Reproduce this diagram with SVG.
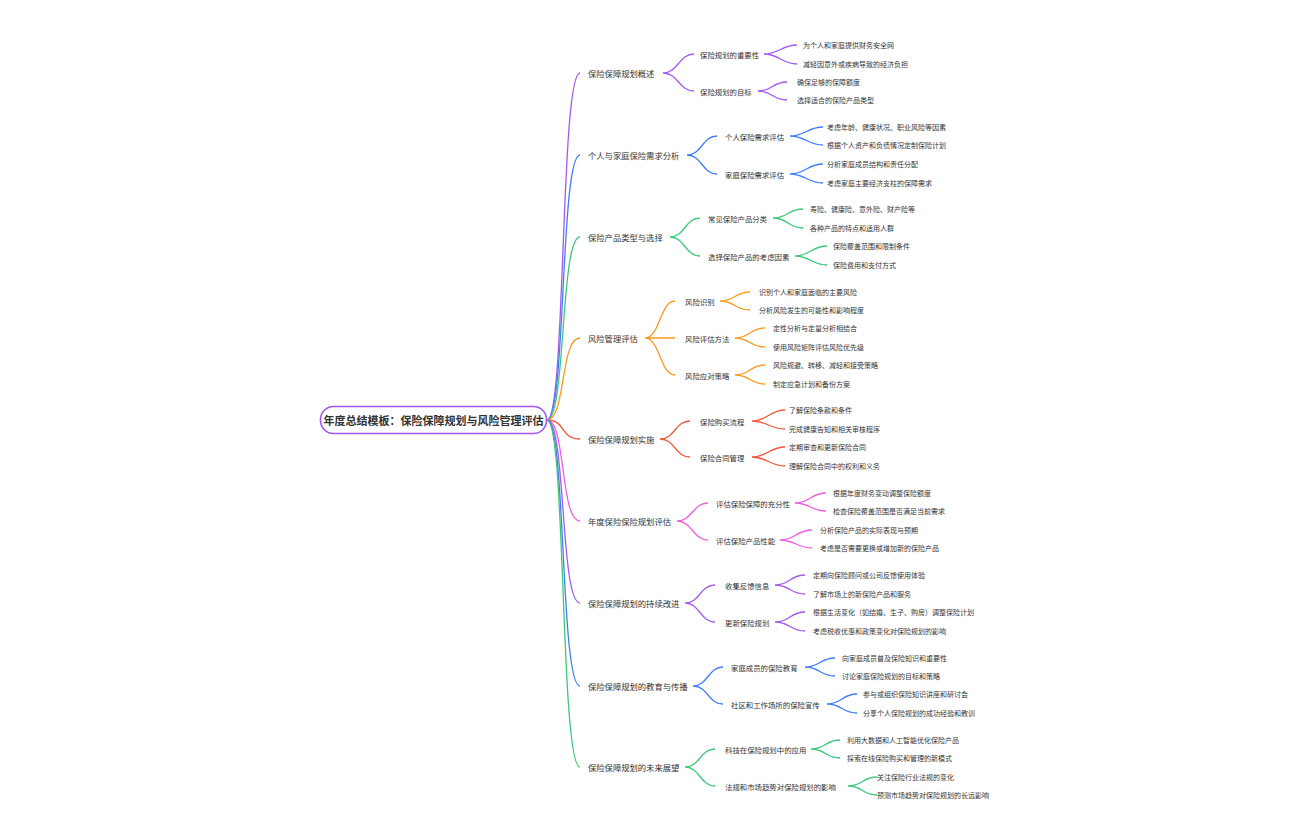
<svg xmlns="http://www.w3.org/2000/svg" width="1296" height="840" viewBox="0 0 1296 840">
<style>
text{font-family:"Noto Sans CJK SC","Noto Sans",sans-serif;fill:#333;dominant-baseline:central}
.l1{font-size:8.3px}.l2{font-size:7.4px}.l3{font-size:7px}
.c path{fill:none;stroke-width:1.3}
.p{stroke:#a259f0}.b{stroke:#3f7ef6}.g{stroke:#3cc87a}.o{stroke:#f79a1e}.r{stroke:#f5573b}.k{stroke:#f05ce0}
</style>
<rect width="1296" height="840" fill="#fff"/>
<g class="c" id="connectors">
<path class="p" d="M547,420 C566,420 560,73 580,73"/>
<path class="b" d="M547,420 C566,420 560,155 580,155"/>
<path class="g" d="M547,420 C566,420 560,237 580,237"/>
<path class="o" d="M547,420 C566,420 560,338 580,338"/>
<path class="r" d="M547,420 C566,420 560,439 580,439"/>
<path class="k" d="M547,420 C566,420 560,521 580,521"/>
<path class="p" d="M547,420 C566,420 560,603 580,603"/>
<path class="b" d="M547,420 C566,420 560,686 580,686"/>
<path class="g" d="M547,420 C566,420 560,767 580,767"/>
<path class="p" d="M663,73 C678,73 679,54 694,54 M663,73 C678,73 679,91 694,91"/>
<path class="p" d="M764,54 C779,54 782,45 797,45 M764,54 C779,54 782,64 797,64"/>
<path class="p" d="M758,91 C773,91 772,82 787,82 M758,91 C773,91 772,100 787,100"/>
<path class="b" d="M687,155 C702,155 702,136 717,136 M687,155 C702,155 702,174 717,174"/>
<path class="b" d="M790,136 C805,136 808,127 823,127 M790,136 C805,136 808,145 823,145"/>
<path class="b" d="M790,174 C805,174 808,164 823,164 M790,174 C805,174 808,183 823,183"/>
<path class="g" d="M670,237 C685,237 685,218 700,218 M670,237 C685,237 685,256 700,256"/>
<path class="g" d="M773,218 C788,218 788,209 803,209 M773,218 C788,218 788,228 803,228"/>
<path class="g" d="M795,256 C810,256 812,246 827,246 M795,256 C810,256 812,265 827,265"/>
<path class="o" d="M645,338 C660,338 660,301 675,301 M645,338 L675,338 M645,338 C660,338 660,375 675,375"/>
<path class="o" d="M720,301 C735,301 735,292 750,292 M720,301 C735,301 735,310 750,310"/>
<path class="o" d="M735,338 C750,338 750,328 765,328 M735,338 C750,338 750,347 765,347"/>
<path class="o" d="M735,375 C750,375 750,365 765,365 M735,375 C750,375 750,384 765,384"/>
<path class="r" d="M660,439 C675,439 675,421 690,421 M660,439 C675,439 675,457 690,457"/>
<path class="r" d="M752,421 C767,421 770,410 785,410 M752,421 C767,421 770,429 785,429"/>
<path class="r" d="M752,457 C767,457 770,447 785,447 M752,457 C767,457 770,466 785,466"/>
<path class="k" d="M677,521 C692,521 693,503 708,503 M677,521 C692,521 693,540 708,540"/>
<path class="k" d="M795,503 C810,503 811,493 826,493 M795,503 C810,503 811,511 826,511"/>
<path class="k" d="M780,540 C795,540 797,530 812,530 M780,540 C795,540 797,548 812,548"/>
<path class="p" d="M685,603 C700,603 700,585 715,585 M685,603 C700,603 700,622 715,622"/>
<path class="p" d="M775,585 C790,585 790,575 805,575 M775,585 C790,585 790,594 805,594"/>
<path class="p" d="M775,622 C790,622 790,612 805,612 M775,622 C790,622 790,631 805,631"/>
<path class="b" d="M693,686 C708,686 708,667 723,667 M693,686 C708,686 708,704 723,704"/>
<path class="b" d="M805,667 C820,667 820,658 835,658 M805,667 C820,667 820,676 835,676"/>
<path class="b" d="M827,704 C842,704 842,694 857,694 M827,704 C842,704 842,713 857,713"/>
<path class="g" d="M685,767 C700,767 700,749 715,749 M685,767 C700,767 700,786 715,786"/>
<path class="g" d="M811,749 C826,749 825,740 840,740 M811,749 C826,749 825,758 840,758"/>
<path class="g" d="M848,786 C863,786 862,777 877,777 M848,786 C863,786 862,795 877,795"/>
</g>
<g id="root"><rect x="320.5" y="406.5" width="226" height="27" rx="13" fill="#fff" stroke="#a259f0" stroke-width="1.6"/><text x="433.5" y="420" text-anchor="middle" font-size="11" font-weight="bold">年度总结模板：保险保障规划与风险管理评估</text></g>
<g id="n1"><text class="l1" x="588" y="73">保险保障规划概述</text><text class="l2" x="700" y="54">保险规划的重要性</text><text class="l3" x="803" y="45">为个人和家庭提供财务安全网</text><text class="l3" x="803" y="64">减轻因意外或疾病导致的经济负担</text><text class="l2" x="700" y="91">保险规划的目标</text><text class="l3" x="797" y="82">确保足够的保障额度</text><text class="l3" x="797" y="100">选择适合的保险产品类型</text></g>
<g id="n2"><text class="l1" x="588" y="155">个人与家庭保险需求分析</text><text class="l2" x="725" y="136">个人保险需求评估</text><text class="l3" x="827" y="127">考虑年龄、健康状况、职业风险等因素</text><text class="l3" x="827" y="145">根据个人资产和负债情况定制保险计划</text><text class="l2" x="725" y="174">家庭保险需求评估</text><text class="l3" x="827" y="164">分析家庭成员结构和责任分配</text><text class="l3" x="827" y="183">考虑家庭主要经济支柱的保障需求</text></g>
<g id="n3"><text class="l1" x="588" y="237">保险产品类型与选择</text><text class="l2" x="708" y="218">常见保险产品分类</text><text class="l3" x="810" y="209">寿险、健康险、意外险、财产险等</text><text class="l3" x="810" y="228">各种产品的特点和适用人群</text><text class="l2" x="708" y="256">选择保险产品的考虑因素</text><text class="l3" x="833" y="246">保险覆盖范围和限制条件</text><text class="l3" x="833" y="265">保险费用和支付方式</text></g>
<g id="n4"><text class="l1" x="588" y="338">风险管理评估</text><text class="l2" x="685" y="301">风险识别</text><text class="l3" x="759" y="292">识别个人和家庭面临的主要风险</text><text class="l3" x="759" y="310">分析风险发生的可能性和影响程度</text><text class="l2" x="685" y="338">风险评估方法</text><text class="l3" x="773" y="328">定性分析与定量分析相结合</text><text class="l3" x="773" y="347">使用风险矩阵评估风险优先级</text><text class="l2" x="685" y="375">风险应对策略</text><text class="l3" x="773" y="365">风险规避、转移、减轻和接受策略</text><text class="l3" x="773" y="384">制定应急计划和备份方案</text></g>
<g id="n5"><text class="l1" x="588" y="439">保险保障规划实施</text><text class="l2" x="700" y="421">保险购买流程</text><text class="l3" x="789" y="410">了解保险条款和条件</text><text class="l3" x="789" y="429">完成健康告知和相关审核程序</text><text class="l2" x="700" y="457">保险合同管理</text><text class="l3" x="789" y="447">定期审查和更新保险合同</text><text class="l3" x="789" y="466">理解保险合同中的权利和义务</text></g>
<g id="n6"><text class="l1" x="588" y="521">年度保险保险规划评估</text><text class="l2" x="716" y="503">评估保险保障的充分性</text><text class="l3" x="833" y="493">根据年度财务变动调整保险额度</text><text class="l3" x="833" y="511">检查保险覆盖范围是否满足当前需求</text><text class="l2" x="716" y="540">评估保险产品性能</text><text class="l3" x="820" y="530">分析保险产品的实际表现与预期</text><text class="l3" x="820" y="548">考虑是否需要更换或增加新的保险产品</text></g>
<g id="n7"><text class="l1" x="588" y="603">保险保障规划的持续改进</text><text class="l2" x="725" y="585">收集反馈信息</text><text class="l3" x="813" y="575">定期向保险顾问或公司反馈使用体验</text><text class="l3" x="813" y="594">了解市场上的新保险产品和服务</text><text class="l2" x="725" y="622">更新保险规划</text><text class="l3" x="813" y="612">根据生活变化（如结婚、生子、购房）调整保险计划</text><text class="l3" x="813" y="631">考虑税收优惠和政策变化对保险规划的影响</text></g>
<g id="n8"><text class="l1" x="588" y="686">保险保障规划的教育与传播</text><text class="l2" x="731" y="667">家庭成员的保险教育</text><text class="l3" x="842" y="658">向家庭成员普及保险知识和重要性</text><text class="l3" x="842" y="676">讨论家庭保险规划的目标和策略</text><text class="l2" x="731" y="704">社区和工作场所的保险宣传</text><text class="l3" x="863" y="694">参与或组织保险知识讲座和研讨会</text><text class="l3" x="863" y="713">分享个人保险规划的成功经验和教训</text></g>
<g id="n9"><text class="l1" x="588" y="767">保险保障规划的未来展望</text><text class="l2" x="725" y="749">科技在保险规划中的应用</text><text class="l3" x="847" y="740">利用大数据和人工智能优化保险产品</text><text class="l3" x="847" y="758">探索在线保险购买和管理的新模式</text><text class="l2" x="725" y="786">法规和市场趋势对保险规划的影响</text><text class="l3" x="877" y="777">关注保险行业法规的变化</text><text class="l3" x="877" y="795">预测市场趋势对保险规划的长远影响</text></g>
</svg>
